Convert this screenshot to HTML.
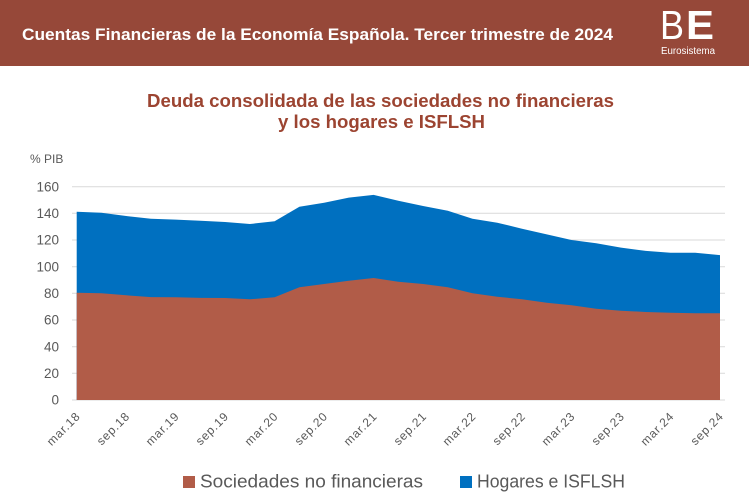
<!DOCTYPE html>
<html>
<head>
<meta charset="utf-8">
<style>
  html,body{margin:0;padding:0;background:#fff;}
  svg{display:block;}
  text{font-family:"Liberation Sans",sans-serif;}
</style>
</head>
<body>
<svg width="749" height="499" viewBox="0 0 749 499" xmlns="http://www.w3.org/2000/svg">
  <!-- Header band -->
  <rect x="0" y="0" width="749" height="66" fill="#964839"/>
  <text x="22" y="40" font-size="16.5" font-weight="bold" fill="#ffffff" textLength="591" lengthAdjust="spacingAndGlyphs">Cuentas Financieras de la Economía Española. Tercer trimestre de 2024</text>
  <!-- Logo -->
  <text x="660" y="39" font-size="41" fill="#ffffff" textLength="24" lengthAdjust="spacingAndGlyphs">B</text>
  <text x="686" y="39" font-size="41" font-weight="bold" fill="#ffffff" textLength="28" lengthAdjust="spacingAndGlyphs">E</text>
  <text x="661" y="54" font-size="10" fill="#ffffff" textLength="54" lengthAdjust="spacingAndGlyphs">Eurosistema</text>

  <!-- Title -->
  <text x="147" y="107" font-size="18.5" font-weight="bold" fill="#9c4431" textLength="467" lengthAdjust="spacingAndGlyphs">Deuda consolidada de las sociedades no financieras</text>
  <text x="278" y="128" font-size="18.5" font-weight="bold" fill="#9c4431" textLength="207" lengthAdjust="spacingAndGlyphs">y los hogares e ISFLSH</text>

  <!-- Y unit -->
  <text x="30" y="163" font-size="12" fill="#595959">% PIB</text>

  <!-- Gridlines -->
  <g stroke="#d9d9d9" stroke-width="1">
    <line x1="72" y1="186.7" x2="725" y2="186.7"/>
    <line x1="72" y1="213.3" x2="725" y2="213.3"/>
    <line x1="72" y1="240" x2="725" y2="240"/>
    <line x1="72" y1="266.7" x2="725" y2="266.7"/>
    <line x1="72" y1="293.3" x2="725" y2="293.3"/>
    <line x1="72" y1="320" x2="725" y2="320"/>
    <line x1="72" y1="346.7" x2="725" y2="346.7"/>
    <line x1="72" y1="373.3" x2="725" y2="373.3"/>
    <line x1="72" y1="400" x2="725" y2="400"/>
  </g>

  <!-- Y tick labels -->
  <g font-size="13.5" fill="#595959" text-anchor="end">
    <text x="59" y="191.5">160</text>
    <text x="59" y="218">140</text>
    <text x="59" y="244.7">120</text>
    <text x="59" y="271.4">100</text>
    <text x="59" y="298">80</text>
    <text x="59" y="324.7">60</text>
    <text x="59" y="351.4">40</text>
    <text x="59" y="378">20</text>
    <text x="59" y="404.7">0</text>
  </g>

  <!-- Blue area (total) -->
  <polygon fill="#0070c0" points="76.7,400 76.7,211.7 101.4,212.7 126.2,216.0 150.9,218.7 175.7,219.6 200.4,220.7 225.1,222.0 249.9,224.0 274.6,221.3 299.4,206.7 324.1,202.7 348.8,197.6 373.6,194.9 398.3,200.7 423.1,206.0 447.8,210.7 472.5,218.7 497.3,222.7 522.0,228.7 546.8,234.4 571.5,240.0 596.2,243.3 621.0,247.6 645.7,250.9 670.5,252.7 695.2,252.7 720.0,255.1 720.0,400"/>
  <!-- Red area -->
  <polygon fill="#b15c48" points="76.7,400 76.7,292.7 101.4,293.3 126.2,295.3 150.9,297.1 175.7,297.3 200.4,297.9 225.1,298.0 249.9,299.3 274.6,297.3 299.4,287.3 324.1,284.0 348.8,280.7 373.6,278.0 398.3,281.7 423.1,284.0 447.8,287.3 472.5,293.3 497.3,296.7 522.0,299.3 546.8,302.7 571.5,305.3 596.2,308.7 621.0,310.7 645.7,312.0 670.5,312.7 695.2,313.3 720.0,313.3 720.0,400"/>

  <!-- X labels -->
  <g font-size="12" fill="#595959" text-anchor="end" letter-spacing="0.8">
    <text transform="translate(81,417) rotate(-45)">mar.18</text>
    <text transform="translate(130.5,417) rotate(-45)">sep.18</text>
    <text transform="translate(180,417) rotate(-45)">mar.19</text>
    <text transform="translate(229.4,417) rotate(-45)">sep.19</text>
    <text transform="translate(278.9,417) rotate(-45)">mar.20</text>
    <text transform="translate(328.4,417) rotate(-45)">sep.20</text>
    <text transform="translate(377.9,417) rotate(-45)">mar.21</text>
    <text transform="translate(427.4,417) rotate(-45)">sep.21</text>
    <text transform="translate(476.8,417) rotate(-45)">mar.22</text>
    <text transform="translate(526.3,417) rotate(-45)">sep.22</text>
    <text transform="translate(575.8,417) rotate(-45)">mar.23</text>
    <text transform="translate(625.3,417) rotate(-45)">sep.23</text>
    <text transform="translate(674.8,417) rotate(-45)">mar.24</text>
    <text transform="translate(724.3,417) rotate(-45)">sep.24</text>
  </g>

  <!-- Legend -->
  <rect x="183" y="476" width="12" height="12" fill="#b15c48"/>
  <text x="200" y="487.5" font-size="18" fill="#595959" textLength="223" lengthAdjust="spacingAndGlyphs">Sociedades no financieras</text>
  <rect x="460" y="476" width="12" height="12" fill="#0070c0"/>
  <text x="477" y="487.5" font-size="18" fill="#595959" textLength="148" lengthAdjust="spacingAndGlyphs">Hogares e ISFLSH</text>
</svg>
</body>
</html>
